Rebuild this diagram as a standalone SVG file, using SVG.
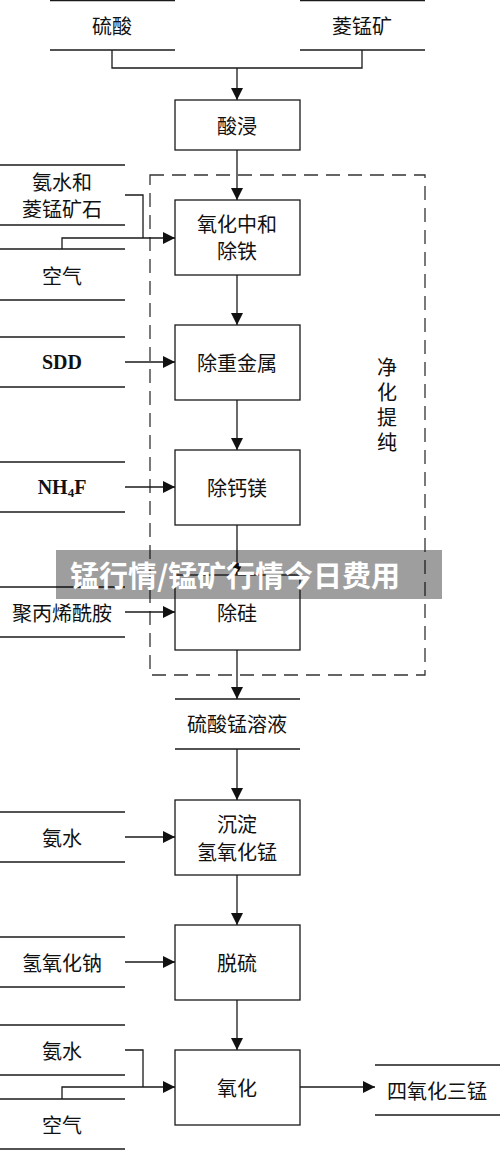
<svg xmlns="http://www.w3.org/2000/svg" width="500" height="1150" viewBox="0 0 500 1150">
<style>
.ln{stroke:#1a1a1a;stroke-width:1.3;fill:none}
.bx{stroke:#1a1a1a;stroke-width:1.3;fill:#fff}
.cn{stroke:#1a1a1a;stroke-width:1.3;fill:none}
.t{font-family:"Noto Sans CJK SC","Noto Sans",sans-serif;font-size:20px;fill:#111;text-anchor:middle;dominant-baseline:central}
.vt{font-family:"Noto Sans CJK SC","Noto Sans",sans-serif;font-size:20px;fill:#111;writing-mode:vertical-rl;letter-spacing:5px}
.lt{font-family:"Liberation Serif",serif;font-size:20px;font-weight:bold;fill:#111;text-anchor:middle;dominant-baseline:central}
.dash{stroke:#333;stroke-width:1.3;fill:none;stroke-dasharray:14 8}
.wm{font-family:"Noto Sans CJK SC",sans-serif;font-size:29px;font-weight:bold;fill:#fff;text-anchor:middle;dominant-baseline:central}
</style>
<defs>
<marker id="ah" markerWidth="12" markerHeight="12" viewBox="0 0 12 12" refX="12" refY="6" orient="auto" markerUnits="userSpaceOnUse">
<path d="M0,0 L12,6 L0,12 Z" fill="#111"/>
</marker>
</defs>
<rect width="500" height="1150" fill="#fff"/>
<g id="purify-region">
<rect class="dash" x="150" y="175" width="275" height="500"/>
<text class="vt" x="387" y="357">净化提纯</text>
</g>
<g id="connectors">
<polyline class="cn" points="112,50 112,68 362,68 362,50"/>
<line class="cn" x1="237" y1="68" x2="237" y2="100" marker-end="url(#ah)"/>
<line class="cn" x1="237" y1="150" x2="237" y2="200" marker-end="url(#ah)"/>
<polyline class="cn" points="125,195 143,195 143,238"/>
<polyline class="cn" points="62,249 62,238 175,238" marker-end="url(#ah)"/>
<line class="cn" x1="237" y1="275" x2="237" y2="325" marker-end="url(#ah)"/>
<line class="cn" x1="125" y1="362" x2="175" y2="362" marker-end="url(#ah)"/>
<line class="cn" x1="237" y1="400" x2="237" y2="450" marker-end="url(#ah)"/>
<line class="cn" x1="125" y1="487" x2="175" y2="487" marker-end="url(#ah)"/>
<line class="cn" x1="237" y1="525" x2="237" y2="575" marker-end="url(#ah)"/>
<line class="cn" x1="125" y1="612" x2="175" y2="612" marker-end="url(#ah)"/>
<line class="cn" x1="237" y1="650" x2="237" y2="699" marker-end="url(#ah)"/>
<line class="cn" x1="237" y1="749" x2="237" y2="800" marker-end="url(#ah)"/>
<line class="cn" x1="125" y1="837" x2="175" y2="837" marker-end="url(#ah)"/>
<line class="cn" x1="237" y1="875" x2="237" y2="925" marker-end="url(#ah)"/>
<line class="cn" x1="125" y1="962" x2="175" y2="962" marker-end="url(#ah)"/>
<line class="cn" x1="237" y1="1000" x2="237" y2="1050" marker-end="url(#ah)"/>
<polyline class="cn" points="125,1050 143,1050 143,1087"/>
<polyline class="cn" points="62,1099 62,1087 175,1087" marker-end="url(#ah)"/>
<line class="cn" x1="300" y1="1087" x2="375" y2="1087" marker-end="url(#ah)"/>
</g>
<g id="sulfuric-acid">
<line class="ln" x1="50" y1="0.5" x2="175" y2="0.5"/><line class="ln" x1="50" y1="50" x2="175" y2="50"/>
<text class="t" x="112" y="25">硫酸</text>
</g>
<g id="rhodochrosite">
<line class="ln" x1="300" y1="0.5" x2="425" y2="0.5"/><line class="ln" x1="300" y1="50" x2="425" y2="50"/>
<text class="t" x="362" y="25">菱锰矿</text>
</g>
<g id="acid-leach">
<rect class="bx" x="175" y="100" width="125" height="50"/>
<text class="t" x="237" y="125">酸浸</text>
</g>
<g id="ammonia-ore">
<line class="ln" x1="0" y1="165" x2="125" y2="165"/><line class="ln" x1="0" y1="225" x2="125" y2="225"/>
<text class="t" x="62" y="181">氨水和</text>
<text class="t" x="62" y="208">菱锰矿石</text>
</g>
<g id="air-1">
<line class="ln" x1="0" y1="249" x2="125" y2="249"/><line class="ln" x1="0" y1="300" x2="125" y2="300"/>
<text class="t" x="62" y="275">空气</text>
</g>
<g id="oxidize-neutralize">
<rect class="bx" x="175" y="200" width="125" height="75"/>
<text class="t" x="237" y="223">氧化中和</text>
<text class="t" x="237" y="250">除铁</text>
</g>
<g id="sdd">
<line class="ln" x1="0" y1="337" x2="125" y2="337"/><line class="ln" x1="0" y1="387" x2="125" y2="387"/>
<text class="lt" x="62" y="362">SDD</text>
</g>
<g id="remove-heavy-metals">
<rect class="bx" x="175" y="325" width="125" height="75"/>
<text class="t" x="237" y="362">除重金属</text>
</g>
<g id="nh4f">
<line class="ln" x1="0" y1="462" x2="125" y2="462"/><line class="ln" x1="0" y1="512" x2="125" y2="512"/>
<text class="lt" x="62" y="487">NH<tspan font-size="13" dy="5">4</tspan><tspan dy="-5">F</tspan></text>
</g>
<g id="remove-ca-mg">
<rect class="bx" x="175" y="450" width="125" height="75"/>
<text class="t" x="237" y="487">除钙镁</text>
</g>
<g id="polyacrylamide">
<line class="ln" x1="0" y1="587" x2="125" y2="587"/><line class="ln" x1="0" y1="637" x2="125" y2="637"/>
<text class="t" x="62" y="612">聚丙烯酰胺</text>
</g>
<g id="remove-si">
<rect class="bx" x="175" y="575" width="125" height="75"/>
<text class="t" x="237" y="612">除硅</text>
</g>
<g id="mnso4-solution">
<line class="ln" x1="175" y1="699" x2="300" y2="699"/><line class="ln" x1="175" y1="749" x2="300" y2="749"/>
<text class="t" x="237" y="723">硫酸锰溶液</text>
</g>
<g id="ammonia-2">
<line class="ln" x1="0" y1="812" x2="125" y2="812"/><line class="ln" x1="0" y1="862" x2="125" y2="862"/>
<text class="t" x="62" y="837">氨水</text>
</g>
<g id="precipitate">
<rect class="bx" x="175" y="800" width="125" height="75"/>
<text class="t" x="237" y="823">沉淀</text>
<text class="t" x="237" y="851">氢氧化锰</text>
</g>
<g id="naoh">
<line class="ln" x1="0" y1="937" x2="125" y2="937"/><line class="ln" x1="0" y1="987" x2="125" y2="987"/>
<text class="t" x="62" y="962">氢氧化钠</text>
</g>
<g id="desulfurize">
<rect class="bx" x="175" y="925" width="125" height="75"/>
<text class="t" x="237" y="962">脱硫</text>
</g>
<g id="ammonia-3">
<line class="ln" x1="0" y1="1025" x2="125" y2="1025"/><line class="ln" x1="0" y1="1075" x2="125" y2="1075"/>
<text class="t" x="62" y="1050">氨水</text>
</g>
<g id="air-2">
<line class="ln" x1="0" y1="1099" x2="125" y2="1099"/><line class="ln" x1="0" y1="1149" x2="125" y2="1149"/>
<text class="t" x="62" y="1124">空气</text>
</g>
<g id="oxidize">
<rect class="bx" x="175" y="1050" width="125" height="75"/>
<text class="t" x="237" y="1087">氧化</text>
</g>
<g id="mn3o4">
<line class="ln" x1="375" y1="1065" x2="500" y2="1065"/><line class="ln" x1="375" y1="1115" x2="500" y2="1115"/>
<text class="t" x="437" y="1090">四氧化三锰</text>
</g>
<g id="watermark">
<rect x="56" y="550" width="386" height="49" fill="#000" opacity="0.38"/>
<text class="wm" x="235" y="574">锰行情/锰矿行情今日费用</text>
</g>
</svg>
